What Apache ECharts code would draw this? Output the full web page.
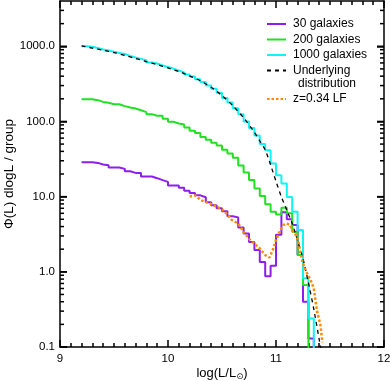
<!DOCTYPE html>
<html>
<head>
<meta charset="utf-8">
<script src="https://cdn.jsdelivr.net/npm/echarts@6/dist/echarts.min.js"></script>
<style>
  html, body { margin: 0; padding: 0; background: #fff; }
  #chart { width: 390px; height: 381px; }
</style>
</head>
<body>
<div id="chart"></div>
<script>
// bin edges in log(L/Lsun), 0.05 dex bins
const binEdges = [9.20, 9.25, 9.30, 9.35, 9.40, 9.45, 9.50, 9.55, 9.60, 9.65, 9.70, 9.75, 9.80, 9.85, 9.90, 9.95,
  10.00, 10.05, 10.10, 10.15, 10.20, 10.25, 10.30, 10.35, 10.40, 10.45, 10.50, 10.55, 10.60, 10.65, 10.70, 10.75,
  10.80, 10.85, 10.90, 10.95, 11.00, 11.05, 11.10, 11.15, 11.20, 11.25, 11.30, 11.35]

// histogram values per bin (phi dlogL / group)
const gal30 = [28.7, 28.7, 28.1, 26.8, 26.2, 24.4, 24.4, 23.4, 21.8, 20.7, 20.7, 18.5, 18.5, 17.6, 16.6, 15.7,
  14.1, 14.1, 13.1, 12.0, 11.2, 10.4, 9.8, 8.4, 7.7, 7.0, 6.4, 5.5, 5.3, 3.9, 3.24, 2.5, 1.95, 1.35, 0.87, 1.2,
  3.1, 6.2, 5.0, 4.2, 1.67, 0.40, 0.13]
const gal200 = [198, 198, 192, 182, 177, 169, 169, 160, 153, 149, 141, 133, 125, 119, 119, 109, 99, 94, 91, 83,
  75, 70, 62, 57, 52, 48, 42, 37.5, 33, 26, 21, 16.6, 12.8, 10.2, 7.9, 6.3, 5.8, 7.1, 6.0, 3.4, 1.67, 0.67]
const gal1000 = [1000, 985, 950, 905, 880, 845, 815, 790, 745, 710, 680, 650, 610, 590, 555, 530, 505, 475, 450,
  420, 395, 365, 335, 300, 272, 240, 205, 178, 150, 125, 100, 82, 65, 50, 41.5, 27.6, 19.3, 15, 9.9, 6.3, 3.6,
  0.82, 0.24]

// underlying distribution
const underL = [9.20, 9.30, 9.40, 9.50, 9.60, 9.70, 9.80, 9.90, 10.00, 10.10, 10.20, 10.30, 10.40, 10.50, 10.60,
  10.70, 10.80, 10.85, 10.90, 10.95, 11.00, 11.05, 11.10, 11.15, 11.20, 11.25, 11.30, 11.35, 11.40, 11.45]
const underV = [1010, 946, 887, 826, 755, 689, 627, 569, 515, 461, 405, 347, 285, 221, 162, 112, 72, 55, 42, 26.5,
  16, 9.9, 6.6, 4.4, 2.6, 1.5, 0.72, 0.32, 0.126, 0.05]

// z=0.34 LF
const lfL = [10.20, 10.25, 10.31, 10.39, 10.45, 10.50, 10.54, 10.59, 10.65, 10.70, 10.76, 10.81, 10.85, 10.90,
  10.94, 10.97, 11.00, 11.04, 11.07, 11.10, 11.13, 11.16, 11.19, 11.21, 11.22, 11.25, 11.28, 11.32, 11.35, 11.38,
  11.41, 11.43]
const lfV = [10.0, 10.4, 8.9, 8.1, 7.4, 6.8, 6.0, 4.9, 4.4, 3.4, 2.65, 2.3, 2.05, 1.67, 1.55, 1.95, 2.65, 3.6, 4.2,
  4.4, 4.2, 3.4, 3.0, 2.4, 1.95, 1.29, 1.0, 0.78, 0.6, 0.30, 0.2, 0.115]

const xTickLabels = [9, 10, 11, 12]
const yTickLabels = [0.1, 1, 10, 100, 1000]
const yMinorMult = [2, 3, 4, 5, 6, 7, 8, 9]

const font = 'Liberation Sans, Arial, sans-serif'
const xMin = 9
const xMax = 12
const yMin = -1
const yMax = Math.log10(4000)
const majorLen = 7
const minorLen = 4

const majorY = yTickLabels.map(v => Math.log10(v))

// y tick marks (log values) with their lengths
const yTicks = []
yTickLabels.forEach(d => {
  yTicks.push([xMin, Math.log10(d), majorLen])
  yMinorMult.forEach(m => {
    const v = Math.log10(d * m)
    if (v < yMax) yTicks.push([xMin, v, minorLen])
  })
})

// step histogram: horizontal over each bin, vertical drop after the last one
function histData(vals) {
  const d = vals.map((v, i) => [binEdges[i], Math.log10(v)])
  const n = vals.length
  d.push([binEdges[n], Math.log10(vals[n - 1])])
  d.push([binEdges[n], -3])
  return d
}

// left and right y ticks, pointing into the plot
function renderYTick(params, api) {
  const v = api.value(1)
  const len = api.value(2)
  const l = api.coord([xMin, v])
  const r = api.coord([xMax, v])
  const style = { stroke: '#000', lineWidth: 1.5 }
  return {
    type: 'group',
    children: [
      { type: 'line', shape: { x1: l[0], y1: l[1], x2: l[0] + len, y2: l[1] }, style: style },
      { type: 'line', shape: { x1: r[0], y1: r[1], x2: r[0] - len, y2: r[1] }, style: style }
    ]
  }
}

function yAxisCfg(pos) {
  return {
    type: 'value',
    position: pos,
    min: yMin,
    max: yMax,
    axisLine: { show: true, onZero: false, lineStyle: { color: '#000', width: 1.5 } },
    axisTick: { show: true, inside: true, length: majorLen, customValues: majorY, lineStyle: { color: '#000', width: 1.5 } },
    axisLabel: {
      show: pos === 'left',
      customValues: majorY,
      margin: 5,
      color: '#000',
      fontFamily: font,
      fontSize: 11.5,
      formatter: v => Math.pow(10, v).toFixed(1)
    },
    splitLine: { show: false }
  }
}

function xAxisCfg(pos) {
  return {
    type: 'value',
    position: pos,
    min: xMin,
    max: xMax,
    interval: 1,
    axisLine: { show: true, onZero: false, lineStyle: { color: '#000', width: 1.5 } },
    axisTick: { show: true, inside: true, length: majorLen, lineStyle: { color: '#000', width: 1.5 } },
    minorTick: { show: true, splitNumber: 10, length: minorLen, lineStyle: { color: '#000', width: 1.5 } },
    axisLabel: { show: pos === 'bottom', margin: 6, color: '#000', fontFamily: font, fontSize: 11.5 },
    splitLine: { show: false }
  }
}

const legendText = { color: '#000', fontFamily: font, fontSize: 12, lineHeight: 14, padding: [0, 0, 0, 2] }

const chart = echarts.init(document.getElementById('chart'))

const xMain = xAxisCfg('bottom')
xMain.name = 'log(L/L{s|⊙})'
xMain.nameLocation = 'middle'
xMain.nameGap = 19
xMain.nameMoveOverlap = false
xMain.nameTextStyle = {
  color: '#000', fontFamily: font, fontSize: 13,
  rich: {
    s: { fontSize: 8.5, fontFamily: 'DejaVu Sans', color: '#000', verticalAlign: 'top', padding: [6, 0, 0, 0] }
  }
}

const yMain = yAxisCfg('left')
yMain.name = 'Φ(L) dlogL / group'
yMain.nameLocation = 'middle'
yMain.nameGap = 44
yMain.nameMoveOverlap = false
yMain.nameTextStyle = { color: '#000', fontFamily: font, fontSize: 13.5 }

chart.setOption({
  animation: false,
  grid: { left: 60, right: 6, top: 1, bottom: 34, outerBoundsMode: 'none' },
  xAxis: [xMain, xAxisCfg('top')],
  yAxis: [yMain, yAxisCfg('right')],
  legend: [{
    data: ['30 galaxies', '200 galaxies', '1000 galaxies', 'Underlying'],
    orient: 'vertical',
    left: 266,
    top: 17,
    padding: 0,
    itemWidth: 19,
    itemHeight: 10,
    itemGap: 1.5,
    itemStyle: { opacity: 0 },
    textStyle: legendText
  }, {
    data: ['z=0.34 LF'],
    orient: 'vertical',
    left: 266,
    top: 92,
    padding: 0,
    itemWidth: 19,
    itemHeight: 10,
    itemStyle: { opacity: 0 },
    textStyle: legendText
  }],
  graphic: [{
    type: 'text',
    left: 298,
    top: 78,
    style: { text: 'distribution', font: '12px Liberation Sans', fill: '#000' }
  }],
  series: [
    {
      name: '30 galaxies', type: 'line', step: 'end', symbol: 'none',
      data: histData(gal30),
      lineStyle: { color: '#8c1ef0', width: 2 }, itemStyle: { color: '#8c1ef0' }
    },
    {
      name: '200 galaxies', type: 'line', step: 'end', symbol: 'none',
      data: histData(gal200),
      lineStyle: { color: '#22e022', width: 2 }, itemStyle: { color: '#22e022' }
    },
    {
      name: '1000 galaxies', type: 'line', step: 'end', symbol: 'none',
      data: histData(gal1000),
      lineStyle: { color: '#10f4f4', width: 2 }, itemStyle: { color: '#10f4f4' }
    },
    {
      name: 'Underlying', type: 'line', symbol: 'none', smooth: 0.2,
      data: underL.map((l, i) => [l, Math.log10(underV[i])]),
      lineStyle: { color: '#000', width: 1.3, type: [4, 4] }, itemStyle: { color: '#000' }
    },
    {
      name: 'z=0.34 LF', type: 'line', symbol: 'none',
      data: lfL.map((l, i) => [l, Math.log10(lfV[i])]),
      lineStyle: { color: '#ff8a00', width: 2.5, type: [2.5, 2] }, itemStyle: { color: '#ff8a00' }
    },
    {
      type: 'custom', silent: true, z: 5, clip: false,
      renderItem: renderYTick,
      data: yTicks
    }
  ]
})
</script>
</body>
</html>
